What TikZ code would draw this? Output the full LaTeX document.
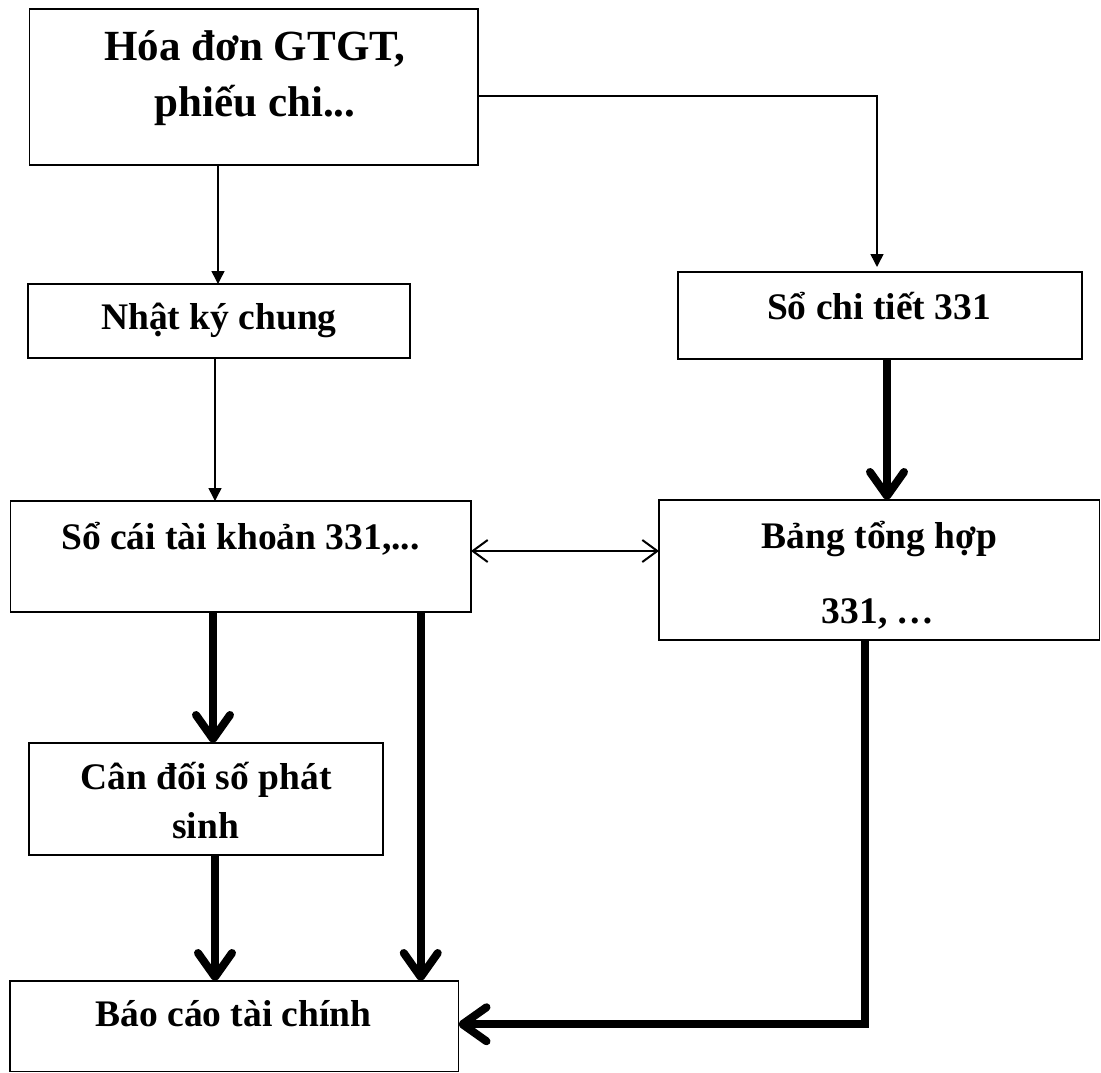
\documentclass[tikz,border=0pt]{standalone}
\usepackage{fontspec}
\setmainfont{Liberation Serif}
\usetikzlibrary{arrows.meta}
\begin{document}
\begin{tikzpicture}[x=1pt,y=-1pt,
  box/.style={draw, line width=1.5pt, inner sep=0pt, outer sep=0pt},
  lbl/.style={anchor=base, inner sep=0pt, font=\fontsize{37.5}{44}\selectfont\bfseries},
  biglbl/.style={anchor=base, inner sep=0pt, font=\fontsize{43}{50}\selectfont\bfseries},
  thinarrow/.style={line width=1.5pt, -{Triangle[length=13pt,width=13pt]}},
  twoway/.style={line width=2pt, {Straight Barb[length=15pt,width=22pt]}-{Straight Barb[length=15pt,width=22pt]}},
  thickarrow/.style={line width=8pt, -{Straight Barb[length=24pt,width=34pt,line cap=round,line join=round]}}
]
\useasboundingbox (0,0) rectangle (1101,1073);

% boxes
\node[box, minimum width=448.5pt, minimum height=156pt] (hd)  at (253.75,87) {};
\node[box, minimum width=382pt,   minimum height=74pt]  (nk)  at (219,321) {};
\node[box, minimum width=404pt,   minimum height=87pt]  (sct) at (880,315.5) {};
\node[box, minimum width=460.5pt, minimum height=111pt] (sc)  at (240.75,556.5) {};
\node[box, minimum width=440.5pt, minimum height=140pt] (bth) at (879.25,570) {};
\node[box, minimum width=354pt,   minimum height=112pt] (cd)  at (206,799) {};
\node[box, minimum width=448.5pt, minimum height=90.5pt] (bc) at (234.25,1026.25) {};

% labels
\node[biglbl] (hd1) at (255,61) {Hóa đơn GTGT,};
\node[biglbl] (hd2) at (255,116) {phiếu chi...};
\node[lbl] (nkt) at (219,329) {Nhật ký chung};
\node[lbl] (sctt) at (879,319) {Sổ chi tiết 331};
\node[lbl] (sct1) at (240.5,549) {Sổ cái tài khoản 331,...};
\node[lbl] (bth1) at (879.5,548) {Bảng tổng hợp};
\node[lbl] (bth2) at (878,623) {331, …};
\node[lbl] (cd1) at (206,789) {Cân đối số phát};
\node[lbl] (cd2) at (205.5,838) {sinh};
\node[lbl] (bct) at (233.5,1026) {Báo cáo tài chính};

% connectors
\draw[thinarrow] ([xshift=-1pt]nk.north |- hd.south) -- ([xshift=-1pt]nk.north);
\draw[thinarrow] ([xshift=-4pt]nk.south) -- ([xshift=-4pt]nk.south |- sc.north);
\draw[thinarrow, shorten >=5pt] ([yshift=-9pt]hd.east) -| ([xshift=-3pt]sct.north);
\draw[thickarrow] ([xshift=7pt]sct.south) -- ([xshift=7pt]sct.south |- bth.north);
\draw[twoway] ([yshift=5.5pt]sc.east) -- ([yshift=5.5pt]sc.east -| bth.west);
\draw[thickarrow] ([xshift=7pt]cd.north |- sc.south) -- ([xshift=7pt]cd.north);
\draw[thickarrow] ([xshift=180pt]sc.south) -- ([xshift=180pt]sc.south |- bc.north);
\draw[thickarrow] ([xshift=9pt]cd.south) -- ([xshift=9pt]cd.south |- bc.north);
\draw[thickarrow] ([xshift=-14.25pt]bth.south) |- ([yshift=2pt]bc.east);
\end{tikzpicture}
\end{document}
